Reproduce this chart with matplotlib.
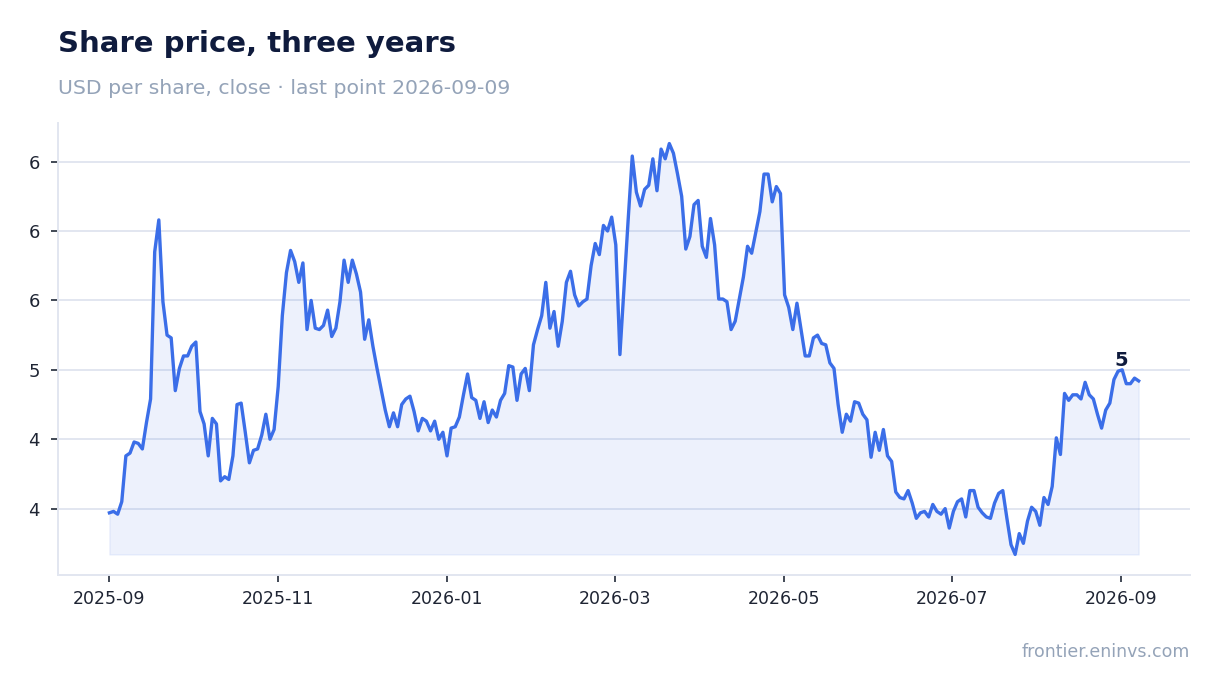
import matplotlib
matplotlib.use("Agg")
import matplotlib.pyplot as plt
import matplotlib.dates as mdates
from matplotlib.ticker import MultipleLocator, StrMethodFormatter, FixedLocator, FixedFormatter
import pandas as pd

# close prices (roughly every 1.5 days)
prices = [
    3.97, 3.98, 3.96, 4.05, 4.38, 4.40, 4.48, 4.47, 4.43, 4.62,
    4.79, 5.85, 6.08, 5.49, 5.25, 5.23, 4.85, 5.01, 5.10, 5.10,
    5.17, 5.20, 4.70, 4.61, 4.38, 4.65, 4.61, 4.20, 4.23, 4.21,
    4.38, 4.75, 4.76, 4.55, 4.33, 4.42, 4.43, 4.53, 4.68, 4.50,
    4.57, 4.88, 5.39, 5.70, 5.86, 5.78, 5.63, 5.77, 5.29, 5.50,
    5.30, 5.29, 5.32, 5.43, 5.24, 5.30, 5.49, 5.79, 5.63, 5.79,
    5.69, 5.56, 5.22, 5.36, 5.17, 5.01, 4.86, 4.71, 4.59, 4.69,
    4.59, 4.75, 4.79, 4.81, 4.70, 4.56, 4.65, 4.63, 4.56, 4.63,
    4.50, 4.55, 4.38, 4.58, 4.59, 4.66, 4.82, 4.97, 4.80, 4.78,
    4.65, 4.77, 4.62, 4.71, 4.66, 4.78, 4.83, 5.03, 5.02, 4.78,
    4.97, 5.01, 4.85, 5.18, 5.29, 5.39, 5.63, 5.30, 5.42, 5.17,
    5.35, 5.63, 5.71, 5.54, 5.46, 5.49, 5.51, 5.75, 5.91, 5.83,
    6.04, 6.00, 6.10, 5.90, 5.11, 5.60, 6.08, 6.54, 6.28, 6.18,
    6.30, 6.33, 6.52, 6.29, 6.59, 6.52, 6.63, 6.56, 6.41, 6.25,
    5.87, 5.96, 6.19, 6.22, 5.89, 5.81, 6.09, 5.90, 5.51, 5.51,
    5.49, 5.29, 5.35, 5.51, 5.67, 5.89, 5.84, 5.99, 6.14, 6.41,
    6.41, 6.21, 6.32, 6.27, 5.54, 5.45, 5.29, 5.48, 5.29, 5.10,
    5.10, 5.23, 5.25, 5.19, 5.18, 5.05, 5.01, 4.75, 4.55, 4.68,
    4.63, 4.77, 4.76, 4.68, 4.64, 4.37, 4.55, 4.42, 4.57, 4.38,
    4.34, 4.12, 4.08, 4.07, 4.13, 4.04, 3.93, 3.97, 3.98, 3.94,
    4.03, 3.98, 3.96, 4.00, 3.86, 3.98, 4.05, 4.07, 3.94, 4.13,
    4.13, 4.01, 3.97, 3.94, 3.93, 4.04, 4.11, 4.13, 3.93, 3.74,
    3.67, 3.82, 3.75, 3.91, 4.01, 3.98, 3.88, 4.08, 4.03, 4.16,
    4.51, 4.39, 4.83, 4.78, 4.82, 4.82, 4.79, 4.91, 4.82, 4.79,
    4.68, 4.58, 4.71, 4.76, 4.93, 4.99, 5.00, 4.90, 4.90, 4.94,
    4.92,
]
first_day = "2025-09-01"
last_day = "2026-09-09"
dates = pd.date_range(first_day, last_day, periods=len(prices))

# axis labels sit at even steps, not on calendar month starts
tick_labels = ["2025-09", "2025-11", "2026-01", "2026-03", "2026-05", "2026-07", "2026-09"]
tick_step_days = 61.1
tick_pos = [mdates.date2num(pd.Timestamp(first_day) + pd.Timedelta(days=tick_step_days * i))
            for i in range(len(tick_labels))]

line_col = "#3b6ee8"
grid_col = "#e2e6f0"

fig = plt.figure(figsize=(12.2, 6.93), dpi=100)
ax = fig.add_axes([0.0475, 0.1703, 0.928, 0.6522])

ax.plot(dates, prices, color=line_col, lw=2.4, zorder=3)
ax.fill_between(dates, prices, min(prices), color=line_col, alpha=0.09, lw=1, zorder=2)

# label the recent high
tail = prices[-20:]
k = len(prices) - 20 + tail.index(max(tail))
ax.annotate(f"{prices[k]:.0f}", (dates[k], prices[k]), xytext=(-1, 0),
            textcoords="offset points", ha="center", va="bottom",
            fontsize=14, fontweight="bold", color="#0f1b3d")

ax.yaxis.set_major_locator(MultipleLocator(0.5))
ax.yaxis.set_major_formatter(StrMethodFormatter("{x:.0f}"))
ax.xaxis.set_major_locator(FixedLocator(tick_pos))
ax.xaxis.set_major_formatter(FixedFormatter(tick_labels))

ax.grid(axis="y", color=grid_col, lw=1.4)
ax.set_axisbelow(True)
for s in ["top", "right"]:
    ax.spines[s].set_visible(False)
for s in ["left", "bottom"]:
    ax.spines[s].set_color(grid_col)
    ax.spines[s].set_linewidth(1.4)
ax.tick_params(axis="y", labelsize=13, colors="#333a48", length=5, width=1.3, pad=8)
ax.tick_params(axis="x", labelsize=12.5, colors="#333a48", length=5, width=1.3, pad=6)
for t in ax.get_xticklabels() + ax.get_yticklabels():
    t.set_color("#1e2433")

fig.text(0.0475, 0.936, "Share price, three years", fontsize=21, fontweight="bold",
         color="#0f1b3d", va="center")
fig.text(0.0475, 0.873, "USD per share, close · last point 2026-09-09", fontsize=14.65,
         color="#94a3b8", va="center")
fig.text(0.9754, 0.059, "frontier.eninvs.com", fontsize=12.5, color="#94a3b8",
         ha="right", va="center")

fig.savefig("out.png", dpi=100)
